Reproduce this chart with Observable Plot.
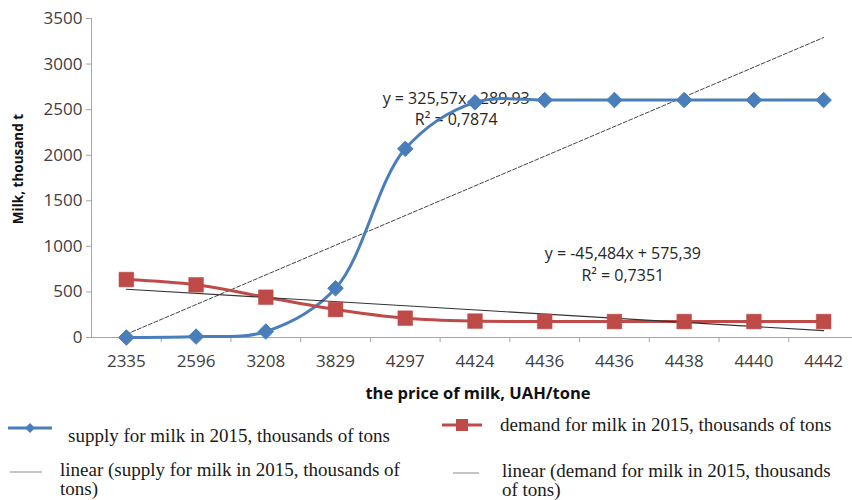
<!DOCTYPE html>
<html>
<head>
<meta charset="utf-8">
<script src="https://cdn.jsdelivr.net/npm/d3@7"></script>
<script src="https://cdn.jsdelivr.net/npm/@observablehq/plot@0.6"></script>
<style>
  html, body { margin: 0; padding: 0; background: #fff; }
  #wrap { position: relative; width: 852px; height: 500px; overflow: hidden; background: #fff; }
  #chart { position: absolute; left: 0; top: 0; }
  .lg { position: absolute; font-family: "Liberation Serif", "Times New Roman", serif; font-size: 19px; color: #1a1a1a; white-space: nowrap; line-height: 18px; height: 18px; }
  .sw { position: absolute; }
</style>
</head>
<body>
<div id="wrap">
  <div id="chart"></div>
</div>
<script>
// ---- data ----
const prices = ["2335", "2596", "3208", "3829", "4297", "4424", "4436", "4436", "4438", "4440", "4442"];
const supply = [0, 10, 65, 540, 2070, 2580, 2605, 2605, 2605, 2605, 2605];
const demand = [636, 578, 442, 307, 212, 180, 176, 175, 175, 175, 175];
const yTicks = [0, 500, 1000, 1500, 2000, 2500, 3000, 3500];
// trendline coefficients as printed on the chart (Excel x = 1..11)
const supplyTrend = [325.57, -289.93];
const demandTrend = [-45.484, 575.39];
const supplyEq = "y = 325,57x - 289,93\nR² = 0,7874";
const demandEq = "y = -45,484x + 575,39\nR² = 0,7351";
const seriesNames = [
  "supply  for milk in 2015, thousands of tons",
  "demand  for milk in 2015, thousands of tons",
  "linear (supply for milk in 2015, thousands of",
  "tons)",
  "linear (demand  for milk in 2015, thousands",
  "of tons)"
];

const BLUE = "#4a7ebb", RED = "#be4b48", AXIS = "#a6a6a6", TXT = "#404040";

const supplyData = prices.map((p, i) => ({i, v: supply[i]}));
const demandData = prices.map((p, i) => ({i, v: demand[i]}));
const ends = [0, prices.length - 1];
const supplyTrendData = ends.map(i => ({i, v: supplyTrend[0] * (i + 1) + supplyTrend[1]}));
const demandTrendData = ends.map(i => ({i, v: demandTrend[0] * (i + 1) + demandTrend[1]}));

const chart = Plot.plot({
  width: 852,
  height: 410,
  marginTop: 18,
  marginBottom: 73,
  marginLeft: 91,
  marginRight: 0,
  style: {fontFamily: "'Open Sans', sans-serif", fontSize: "17px", background: "white", overflow: "visible"},
  x: {type: "linear", domain: [-0.5, 10.5], range: [91, 858]},
  y: {domain: [0, 3500]},
  marks: [
    Plot.ruleX([-0.5], {stroke: AXIS}),
    Plot.ruleY([0], {stroke: AXIS}),
    Plot.axisY({ticks: yTicks, tickSize: 5, tickPadding: 4, tickFormat: d => String(d), stroke: AXIS, fill: TXT, fontSize: 17, label: null}),
    Plot.axisX({ticks: d3.range(0.5, 10, 1), tickSize: 5, tickFormat: () => "", stroke: AXIS, label: null}),
    Plot.axisX({ticks: d3.range(0, 11), tickSize: 0, tickPadding: 17, tickFormat: i => prices[i], fill: TXT, fontSize: 17, label: null}),
    Plot.text(["the price of milk, UAH/tone"], {frameAnchor: "bottom", dy: 56, dx: 6, fontWeight: "bold", fontSize: 16.5, fill: "#111", textAnchor: "middle", lineAnchor: "middle"}),
    Plot.text(["Milk, thousand t"], {frameAnchor: "left", dx: -73, dy: -9, rotate: -90, fontWeight: "bold", fontSize: 13.5, fill: "#111", textAnchor: "middle", lineAnchor: "middle"}),
    Plot.text([supplyEq], {x: () => 4.73, y: () => 2522, fontSize: 16, fill: "#262626", lineAnchor: "middle", lineHeight: 1.32, textAnchor: "middle"}),
    Plot.text([demandEq], {x: () => 7.12, y: () => 814, fontSize: 16, fill: "#262626", lineAnchor: "middle", lineHeight: 1.35, textAnchor: "middle"}),
    Plot.line(supplyTrendData, {x: "i", y: "v", stroke: "#444", strokeWidth: 1, strokeDasharray: "4,2"}),
    Plot.line(supplyData, {x: "i", y: "v", stroke: BLUE, strokeWidth: 3, curve: "catmull-rom"}),
    Plot.line(demandData, {x: "i", y: "v", stroke: RED, strokeWidth: 3, curve: "catmull-rom"}),
    Plot.line(demandTrendData, {x: "i", y: "v", stroke: "#333", strokeWidth: 1.1}),
    Plot.dot(supplyData, {x: "i", y: "v", symbol: "diamond2", r: 7, fill: BLUE, stroke: BLUE, strokeWidth: 1}),
    Plot.dot(demandData, {x: "i", y: "v", symbol: "square", r: 8.3, fill: RED, stroke: RED, strokeWidth: 0.5})
  ]
});
document.getElementById("chart").appendChild(chart);

// ---- legend (HTML below the SVG) ----
const wrap = document.getElementById("wrap");
function swatch(left, top, w, color, sym) {
  const ns = "http://www.w3.org/2000/svg";
  const s = document.createElementNS(ns, "svg");
  s.setAttribute("class", "sw");
  s.setAttribute("width", w);
  s.setAttribute("height", 16);
  s.style.left = left + "px";
  s.style.top = (top - 8) + "px";
  const l = document.createElementNS(ns, "line");
  l.setAttribute("x1", 0); l.setAttribute("x2", w); l.setAttribute("y1", 8); l.setAttribute("y2", 8);
  l.setAttribute("stroke", color); l.setAttribute("stroke-width", sym ? 3 : 1.5);
  s.appendChild(l);
  if (sym === "diamond") {
    const p = document.createElementNS(ns, "path");
    const c = w / 2;
    p.setAttribute("d", `M${c},3L${c + 5},8L${c},13L${c - 5},8Z`);
    p.setAttribute("fill", color);
    s.appendChild(p);
  } else if (sym === "square") {
    const r = document.createElementNS(ns, "rect");
    r.setAttribute("x", w / 2 - 6); r.setAttribute("y", 2); r.setAttribute("width", 12); r.setAttribute("height", 12);
    r.setAttribute("fill", color);
    s.appendChild(r);
  }
  wrap.appendChild(s);
}
function label(text, left, centerY) {
  const d = document.createElement("div");
  d.className = "lg";
  d.textContent = text;
  d.style.left = left + "px";
  d.style.top = (centerY - 9) + "px";
  wrap.appendChild(d);
}
swatch(8, 428, 44, BLUE, "diamond");
label(seriesNames[0], 68, 436);
swatch(442, 425, 40, RED, "square");
label(seriesNames[1], 500, 425);
swatch(10, 472, 32, "#b0b0b0", null);
label(seriesNames[2], 60, 470);
label(seriesNames[3], 60, 489);
swatch(453, 473, 26, "#b0b0b0", null);
label(seriesNames[4], 502, 471);
label(seriesNames[5], 502, 490);
</script>
</body>
</html>
